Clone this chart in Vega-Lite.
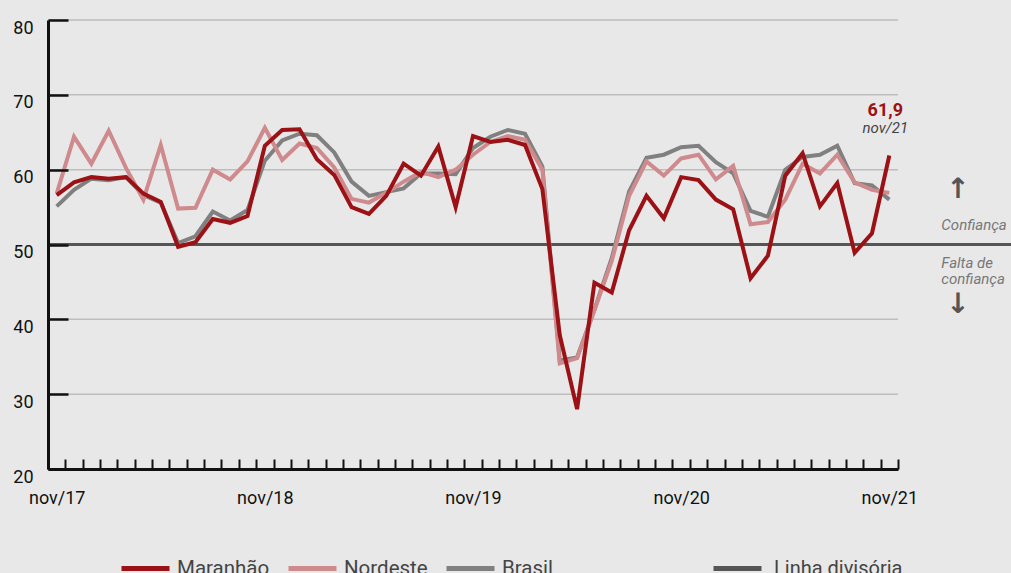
{
  "$schema": "https://vega.github.io/schema/vega-lite/v6.json",
  "width": 850,
  "height": 449,
  "autosize": {"type": "none"},
  "padding": {"left": 48, "top": 20, "right": 113, "bottom": 104},
  "background": "#e8e8e8",
  "config": {
    "view": {"stroke": null},
    "font": "Roboto",
    "locale": {"number": {"decimal": ",", "thousands": ".", "grouping": [3], "currency": ["R$", ""]}}
  },
  "datasets": {
    "ind": [
      {"mes":"nov/17","i":0,"serie":"Brasil","valor":55.1},{"mes":"dez/17","i":1,"serie":"Brasil","valor":57.3},{"mes":"jan/18","i":2,"serie":"Brasil","valor":58.8},{"mes":"fev/18","i":3,"serie":"Brasil","valor":58.6},{"mes":"mar/18","i":4,"serie":"Brasil","valor":59.0},{"mes":"abr/18","i":5,"serie":"Brasil","valor":56.6},{"mes":"mai/18","i":6,"serie":"Brasil","valor":55.6},{"mes":"jun/18","i":7,"serie":"Brasil","valor":50.2},{"mes":"jul/18","i":8,"serie":"Brasil","valor":51.1},{"mes":"ago/18","i":9,"serie":"Brasil","valor":54.4},{"mes":"set/18","i":10,"serie":"Brasil","valor":53.2},{"mes":"out/18","i":11,"serie":"Brasil","valor":54.6},
      {"mes":"nov/18","i":12,"serie":"Brasil","valor":61.2},{"mes":"dez/18","i":13,"serie":"Brasil","valor":63.9},{"mes":"jan/19","i":14,"serie":"Brasil","valor":64.8},{"mes":"fev/19","i":15,"serie":"Brasil","valor":64.6},{"mes":"mar/19","i":16,"serie":"Brasil","valor":62.3},{"mes":"abr/19","i":17,"serie":"Brasil","valor":58.4},{"mes":"mai/19","i":18,"serie":"Brasil","valor":56.5},{"mes":"jun/19","i":19,"serie":"Brasil","valor":57.0},{"mes":"jul/19","i":20,"serie":"Brasil","valor":57.5},{"mes":"ago/19","i":21,"serie":"Brasil","valor":59.5},{"mes":"set/19","i":22,"serie":"Brasil","valor":59.5},{"mes":"out/19","i":23,"serie":"Brasil","valor":59.4},
      {"mes":"nov/19","i":24,"serie":"Brasil","valor":62.9},{"mes":"dez/19","i":25,"serie":"Brasil","valor":64.4},{"mes":"jan/20","i":26,"serie":"Brasil","valor":65.3},{"mes":"fev/20","i":27,"serie":"Brasil","valor":64.8},{"mes":"mar/20","i":28,"serie":"Brasil","valor":60.4},{"mes":"abr/20","i":29,"serie":"Brasil","valor":34.5},{"mes":"mai/20","i":30,"serie":"Brasil","valor":34.9},{"mes":"jun/20","i":31,"serie":"Brasil","valor":41.3},{"mes":"jul/20","i":32,"serie":"Brasil","valor":48.2},{"mes":"ago/20","i":33,"serie":"Brasil","valor":57.1},{"mes":"set/20","i":34,"serie":"Brasil","valor":61.6},{"mes":"out/20","i":35,"serie":"Brasil","valor":62.0},
      {"mes":"nov/20","i":36,"serie":"Brasil","valor":63.0},{"mes":"dez/20","i":37,"serie":"Brasil","valor":63.2},{"mes":"jan/21","i":38,"serie":"Brasil","valor":61.0},{"mes":"fev/21","i":39,"serie":"Brasil","valor":59.5},{"mes":"mar/21","i":40,"serie":"Brasil","valor":54.5},{"mes":"abr/21","i":41,"serie":"Brasil","valor":53.7},{"mes":"mai/21","i":42,"serie":"Brasil","valor":60.0},{"mes":"jun/21","i":43,"serie":"Brasil","valor":61.7},{"mes":"jul/21","i":44,"serie":"Brasil","valor":62.0},{"mes":"ago/21","i":45,"serie":"Brasil","valor":63.2},{"mes":"set/21","i":46,"serie":"Brasil","valor":58.2},{"mes":"out/21","i":47,"serie":"Brasil","valor":57.9},{"mes":"nov/21","i":48,"serie":"Brasil","valor":56.0},

      {"mes":"nov/17","i":0,"serie":"Nordeste","valor":56.8},{"mes":"dez/17","i":1,"serie":"Nordeste","valor":64.4},{"mes":"jan/18","i":2,"serie":"Nordeste","valor":60.8},{"mes":"fev/18","i":3,"serie":"Nordeste","valor":65.2},{"mes":"mar/18","i":4,"serie":"Nordeste","valor":60.2},{"mes":"abr/18","i":5,"serie":"Nordeste","valor":56.0},{"mes":"mai/18","i":6,"serie":"Nordeste","valor":63.3},{"mes":"jun/18","i":7,"serie":"Nordeste","valor":54.8},{"mes":"jul/18","i":8,"serie":"Nordeste","valor":54.9},{"mes":"ago/18","i":9,"serie":"Nordeste","valor":60.0},{"mes":"set/18","i":10,"serie":"Nordeste","valor":58.7},{"mes":"out/18","i":11,"serie":"Nordeste","valor":61.1},
      {"mes":"nov/18","i":12,"serie":"Nordeste","valor":65.6},{"mes":"dez/18","i":13,"serie":"Nordeste","valor":61.3},{"mes":"jan/19","i":14,"serie":"Nordeste","valor":63.5},{"mes":"fev/19","i":15,"serie":"Nordeste","valor":62.9},{"mes":"mar/19","i":16,"serie":"Nordeste","valor":60.3},{"mes":"abr/19","i":17,"serie":"Nordeste","valor":56.1},{"mes":"mai/19","i":18,"serie":"Nordeste","valor":55.6},{"mes":"jun/19","i":19,"serie":"Nordeste","valor":56.9},{"mes":"jul/19","i":20,"serie":"Nordeste","valor":58.4},{"mes":"ago/19","i":21,"serie":"Nordeste","valor":59.7},{"mes":"set/19","i":22,"serie":"Nordeste","valor":59.0},{"mes":"out/19","i":23,"serie":"Nordeste","valor":60.0},
      {"mes":"nov/19","i":24,"serie":"Nordeste","valor":62.0},{"mes":"dez/19","i":25,"serie":"Nordeste","valor":63.7},{"mes":"jan/20","i":26,"serie":"Nordeste","valor":64.5},{"mes":"fev/20","i":27,"serie":"Nordeste","valor":64.0},{"mes":"mar/20","i":28,"serie":"Nordeste","valor":60.0},{"mes":"abr/20","i":29,"serie":"Nordeste","valor":34.1},{"mes":"mai/20","i":30,"serie":"Nordeste","valor":34.8},{"mes":"jun/20","i":31,"serie":"Nordeste","valor":41.2},{"mes":"jul/20","i":32,"serie":"Nordeste","valor":47.8},{"mes":"ago/20","i":33,"serie":"Nordeste","valor":56.5},{"mes":"set/20","i":34,"serie":"Nordeste","valor":61.1},{"mes":"out/20","i":35,"serie":"Nordeste","valor":59.2},
      {"mes":"nov/20","i":36,"serie":"Nordeste","valor":61.5},{"mes":"dez/20","i":37,"serie":"Nordeste","valor":62.0},{"mes":"jan/21","i":38,"serie":"Nordeste","valor":58.7},{"mes":"fev/21","i":39,"serie":"Nordeste","valor":60.5},{"mes":"mar/21","i":40,"serie":"Nordeste","valor":52.7},{"mes":"abr/21","i":41,"serie":"Nordeste","valor":53.0},{"mes":"mai/21","i":42,"serie":"Nordeste","valor":56.0},{"mes":"jun/21","i":43,"serie":"Nordeste","valor":60.8},{"mes":"jul/21","i":44,"serie":"Nordeste","valor":59.5},{"mes":"ago/21","i":45,"serie":"Nordeste","valor":62.0},{"mes":"set/21","i":46,"serie":"Nordeste","valor":58.3},{"mes":"out/21","i":47,"serie":"Nordeste","valor":57.3},{"mes":"nov/21","i":48,"serie":"Nordeste","valor":56.9},

      {"mes":"nov/17","i":0,"serie":"Maranhão","valor":56.6},{"mes":"dez/17","i":1,"serie":"Maranhão","valor":58.3},{"mes":"jan/18","i":2,"serie":"Maranhão","valor":59.0},{"mes":"fev/18","i":3,"serie":"Maranhão","valor":58.8},{"mes":"mar/18","i":4,"serie":"Maranhão","valor":59.0},{"mes":"abr/18","i":5,"serie":"Maranhão","valor":56.8},{"mes":"mai/18","i":6,"serie":"Maranhão","valor":55.7},{"mes":"jun/18","i":7,"serie":"Maranhão","valor":49.7},{"mes":"jul/18","i":8,"serie":"Maranhão","valor":50.3},{"mes":"ago/18","i":9,"serie":"Maranhão","valor":53.4},{"mes":"set/18","i":10,"serie":"Maranhão","valor":52.9},{"mes":"out/18","i":11,"serie":"Maranhão","valor":53.8},
      {"mes":"nov/18","i":12,"serie":"Maranhão","valor":63.2},{"mes":"dez/18","i":13,"serie":"Maranhão","valor":65.3},{"mes":"jan/19","i":14,"serie":"Maranhão","valor":65.4},{"mes":"fev/19","i":15,"serie":"Maranhão","valor":61.4},{"mes":"mar/19","i":16,"serie":"Maranhão","valor":59.3},{"mes":"abr/19","i":17,"serie":"Maranhão","valor":55.0},{"mes":"mai/19","i":18,"serie":"Maranhão","valor":54.1},{"mes":"jun/19","i":19,"serie":"Maranhão","valor":56.5},{"mes":"jul/19","i":20,"serie":"Maranhão","valor":60.8},{"mes":"ago/19","i":21,"serie":"Maranhão","valor":59.2},{"mes":"set/19","i":22,"serie":"Maranhão","valor":63.1},{"mes":"out/19","i":23,"serie":"Maranhão","valor":55.0},
      {"mes":"nov/19","i":24,"serie":"Maranhão","valor":64.5},{"mes":"dez/19","i":25,"serie":"Maranhão","valor":63.7},{"mes":"jan/20","i":26,"serie":"Maranhão","valor":64.0},{"mes":"fev/20","i":27,"serie":"Maranhão","valor":63.3},{"mes":"mar/20","i":28,"serie":"Maranhão","valor":57.4},{"mes":"abr/20","i":29,"serie":"Maranhão","valor":37.9},{"mes":"mai/20","i":30,"serie":"Maranhão","valor":28.0},{"mes":"jun/20","i":31,"serie":"Maranhão","valor":44.9},{"mes":"jul/20","i":32,"serie":"Maranhão","valor":43.6},{"mes":"ago/20","i":33,"serie":"Maranhão","valor":51.9},{"mes":"set/20","i":34,"serie":"Maranhão","valor":56.5},{"mes":"out/20","i":35,"serie":"Maranhão","valor":53.5},
      {"mes":"nov/20","i":36,"serie":"Maranhão","valor":59.0},{"mes":"dez/20","i":37,"serie":"Maranhão","valor":58.6},{"mes":"jan/21","i":38,"serie":"Maranhão","valor":56.0},{"mes":"fev/21","i":39,"serie":"Maranhão","valor":54.7},{"mes":"mar/21","i":40,"serie":"Maranhão","valor":45.5},{"mes":"abr/21","i":41,"serie":"Maranhão","valor":48.5},{"mes":"mai/21","i":42,"serie":"Maranhão","valor":59.2},{"mes":"jun/21","i":43,"serie":"Maranhão","valor":62.2},{"mes":"jul/21","i":44,"serie":"Maranhão","valor":55.1},{"mes":"ago/21","i":45,"serie":"Maranhão","valor":58.2},{"mes":"set/21","i":46,"serie":"Maranhão","valor":48.9},{"mes":"out/21","i":47,"serie":"Maranhão","valor":51.5},{"mes":"nov/21","i":48,"serie":"Maranhão","valor":61.9}
    ]
  },
  "data": {"name": "ind"},
  "layer": [
    {
      "data": {"values": [{"g": 30}, {"g": 40}, {"g": 60}, {"g": 70}, {"g": 80}]},
      "mark": {"type": "rule", "color": "#bdbdbd", "strokeWidth": 1.5},
      "encoding": {
        "y": {"field": "g", "type": "quantitative", "title": null, "scale": {"domain": [20, 80], "nice": false, "zero": false}},
        "x": {"datum": -0.5},
        "x2": {"datum": 48.5}
      }
    },
    {
      "data": {"values": [{"v": 50, "nome": "Linha divisória"}]},
      "mark": {"type": "rule", "strokeWidth": 3},
      "encoding": {
        "y": {"field": "v", "type": "quantitative", "title": null},
        "x": {"datum": -0.5},
        "x2": {"datum": 55.2},
        "stroke": {
          "field": "nome", "type": "nominal",
          "scale": {"range": ["#555555"]},
          "legend": {"orient": "none", "legendX": 663, "legendY": 522, "direction": "horizontal", "title": null, "symbolType": "stroke", "symbolSize": 2304, "symbolStrokeWidth": 5, "labelFontSize": 20, "labelColor": "#444444", "labelOffset": 10, "padding": 0}
        }
      }
    },
    {
      "mark": {"type": "line", "strokeWidth": 4},
      "encoding": {
        "x": {
          "field": "i", "type": "quantitative", "title": null,
          "scale": {"domain": [-0.5, 48.5], "nice": false, "zero": false},
          "axis": {
            "values": [-0.5,0.5,1.5,2.5,3.5,4.5,5.5,6.5,7.5,8.5,9.5,10.5,11.5,12.5,13.5,14.5,15.5,16.5,17.5,18.5,19.5,20.5,21.5,22.5,23.5,24.5,25.5,26.5,27.5,28.5,29.5,30.5,31.5,32.5,33.5,34.5,35.5,36.5,37.5,38.5,39.5,40.5,41.5,42.5,43.5,44.5,45.5,46.5,47.5,48.5],
            "tickCount": 100,
            "labelExpr": "((datum.value + 0.5) % 12 == 0) ? 'nov/' + (17 + (datum.value + 0.5) / 12) : ''",
            "labelOffset": 8.67, "labelFlush": false, "labelOverlap": false, "labelAngle": 0,
            "labelFontSize": 18, "labelColor": "#111111", "labelPadding": 30,
            "domainColor": "#111111", "domainWidth": 3,
            "tickColor": "#111111", "tickWidth": 2, "tickSize": -10,
            "grid": false, "zindex": 1
          }
        },
        "y": {
          "field": "valor", "type": "quantitative", "title": null,
          "scale": {"domain": [20, 80], "nice": false, "zero": false},
          "axis": {
            "values": [20, 30, 40, 50, 60, 70, 80],
            "tickCount": 20,
            "labelFontSize": 18, "labelColor": "#111111", "labelPadding": 35, "labelOffset": 8,
            "domainColor": "#111111", "domainWidth": 3,
            "tickColor": "#111111", "tickWidth": 2.5, "tickSize": -20,
            "grid": false, "zindex": 1
          }
        },
        "color": {
          "field": "serie", "type": "nominal",
          "scale": {"domain": ["Maranhão", "Nordeste", "Brasil"], "range": ["#9b1115", "#cf8a8d", "#808080"]},
          "legend": {"orient": "none", "legendX": 71, "legendY": 522, "direction": "horizontal", "title": null, "symbolType": "stroke", "symbolSize": 2304, "symbolStrokeWidth": 5, "labelFontSize": 20.5, "labelColor": "#444444", "labelOffset": 5, "columnPadding": 8, "padding": 0}
        }
      }
    },
    {
      "transform": [{"filter": "datum.serie == 'Maranhão' && datum.i == 48"}],
      "mark": {"type": "text", "fontSize": 18, "fontWeight": "bold", "color": "#9b1115", "dx": -4, "dy": -39, "baseline": "alphabetic", "align": "center"},
      "encoding": {
        "x": {"field": "i", "type": "quantitative"},
        "y": {"field": "valor", "type": "quantitative"},
        "text": {"field": "valor", "type": "quantitative", "format": ".1f"}
      }
    },
    {
      "transform": [{"filter": "datum.serie == 'Maranhão' && datum.i == 48"}],
      "mark": {"type": "text", "fontSize": 15, "fontStyle": "italic", "color": "#444444", "dx": -4, "dy": -22, "baseline": "alphabetic", "align": "center"},
      "encoding": {
        "x": {"field": "i", "type": "quantitative"},
        "y": {"field": "valor", "type": "quantitative"},
        "text": {"field": "mes", "type": "nominal"}
      }
    },
    {
      "data": {"values": [{}]},
      "mark": {"type": "text", "text": "Confiança", "fontSize": 15, "fontStyle": "italic", "color": "#777777", "align": "left", "baseline": "alphabetic"},
      "encoding": {"x": {"datum": 51.0}, "y": {"datum": 52.0}}
    },
    {
      "data": {"values": [{}]},
      "mark": {"type": "text", "text": ["Falta de", "confiança"], "lineHeight": 16, "fontSize": 15, "fontStyle": "italic", "color": "#777777", "align": "left", "baseline": "alphabetic"},
      "encoding": {"x": {"datum": 51.0}, "y": {"datum": 46.9}}
    },
    {
      "data": {"values": [{}]},
      "mark": {"type": "text", "text": "↑", "font": "DejaVu Sans", "fontSize": 28, "fontWeight": "bold", "color": "#555555", "align": "center", "baseline": "middle"},
      "encoding": {"x": {"datum": 51.96}, "y": {"datum": 57.3}}
    },
    {
      "data": {"values": [{}]},
      "mark": {"type": "text", "text": "↓", "font": "DejaVu Sans", "fontSize": 28, "fontWeight": "bold", "color": "#555555", "align": "center", "baseline": "middle"},
      "encoding": {"x": {"datum": 51.96}, "y": {"datum": 41.9}}
    }
  ]
}
